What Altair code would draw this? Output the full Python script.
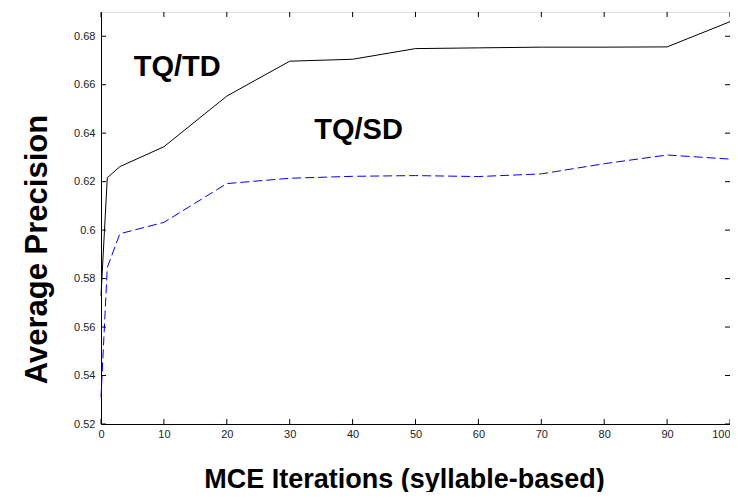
import altair as alt
import pandas as pd

# ---- data ----
td_x = [0, 1, 3, 10, 20, 30, 40, 50, 60, 70, 80, 90, 100]
td_y = [0.573, 0.6216, 0.6262, 0.6344, 0.6553, 0.6697, 0.6705, 0.6749, 0.6752, 0.6755, 0.6755, 0.6756, 0.686]

sd_x = [0, 1, 3, 10, 20, 30, 40, 50, 60, 70, 80, 90, 100]
sd_y = [0.531, 0.5846, 0.5985, 0.6032, 0.6192, 0.6214, 0.6222, 0.6225, 0.6221, 0.6232, 0.6274, 0.6310, 0.6293]

label_text = ["TQ/TD", "TQ/SD"]
label_x = [5.2, 33.9]
label_y = [0.6635, 0.6378]

x_ticks = [0, 10, 20, 30, 40, 50, 60, 70, 80, 90, 100]
y_ticks = [0.52, 0.54, 0.56, 0.58, 0.60, 0.62, 0.64, 0.66, 0.68]

W, H = 629, 412
FONT = "Liberation Sans"

td = pd.DataFrame({"x": td_x, "y": td_y})
sd = pd.DataFrame({"x": sd_x, "y": sd_y})
labels = pd.DataFrame({"t": label_text, "x": label_x, "y": label_y})
xt = pd.DataFrame({"x": x_ticks})
yt = pd.DataFrame({"y": y_ticks})

xs = alt.Scale(domain=[0, 100], nice=False, zero=False)
ys = alt.Scale(domain=[0.52, 0.69], nice=False, zero=False)

x_axis = alt.Axis(
    values=x_ticks, ticks=False, grid=False, domainColor="#000", domainWidth=1,
    labelFont=FONT, labelFontSize=11, labelColor="#222", labelPadding=4,
    labelFlush=False, labelOverlap=False,
    labelAlign={"condition": {"test": "datum.value >= 100", "value": "right"}, "value": "center"},
    titleFont=FONT, titleFontSize=27,
    titleFontWeight="bold", titleColor="#000", titleX=303, titleY=63,
    titleAnchor="middle", titleAlign="center", titleBaseline="alphabetic",
)
y_axis = alt.Axis(
    values=y_ticks, ticks=False, grid=False, domainColor="#000", domainWidth=1,
    labelFont=FONT, labelFontSize=11, labelColor="#222", labelPadding=6,
    labelFlush=False, labelOverlap=False,
    labelExpr="'' + round(datum.value*100)/100",
    titleFont=FONT, titleFontSize=31,
    titleFontWeight="bold", titleColor="#000", titleX=-64, titleY=237,
    titleAngle=-90, titleAlign="center", titleBaseline="middle",
)

XT = "MCE Iterations (syllable-based)"
YT = "Average Precision"


def X(f="x"):
    return alt.X(f + ":Q", scale=xs, axis=x_axis, title=XT)


def Y(f="y"):
    return alt.Y(f + ":Q", scale=ys, axis=y_axis, title=YT)


line_td = alt.Chart(td).mark_line(color="#000000", strokeWidth=1).encode(x=X(), y=Y())
line_sd = alt.Chart(sd).mark_line(color="#0000ff", strokeWidth=1, strokeDash=[9, 4]).encode(x=X(), y=Y())
text = alt.Chart(labels).mark_text(
    font=FONT, fontSize=29, fontWeight="bold", color="#000", align="left", baseline="alphabetic"
).encode(x=X(), y=Y(), text="t:N")

tick_len = 5
bottom_ticks = alt.Chart(xt).mark_rule(color="#000", strokeWidth=1).encode(
    x=X(), y=alt.value(H), y2=alt.value(H - tick_len)
)
top_ticks = alt.Chart(xt).mark_rule(color="#000", strokeWidth=1).encode(
    x=X(), y=alt.value(0), y2=alt.value(tick_len)
)
left_ticks = alt.Chart(yt).mark_rule(color="#000", strokeWidth=1).encode(
    y=Y(), x=alt.value(0), x2=alt.value(tick_len)
)
right_ticks = alt.Chart(yt).mark_rule(color="#000", strokeWidth=1).encode(
    y=Y(), x=alt.value(W), x2=alt.value(W - tick_len)
)

chart = alt.layer(
    line_td, line_sd, text, bottom_ticks, top_ticks, left_ticks, right_ticks
).properties(
    width=W, height=H,
    autosize=alt.AutoSizeParams(type="none"),
    padding={"left": 93, "top": 4, "right": 0, "bottom": 68},
).configure_view(stroke="#000", strokeWidth=1).configure(background="white")

chart.save("out.html", embed_options={"renderer": "svg", "actions": False})
